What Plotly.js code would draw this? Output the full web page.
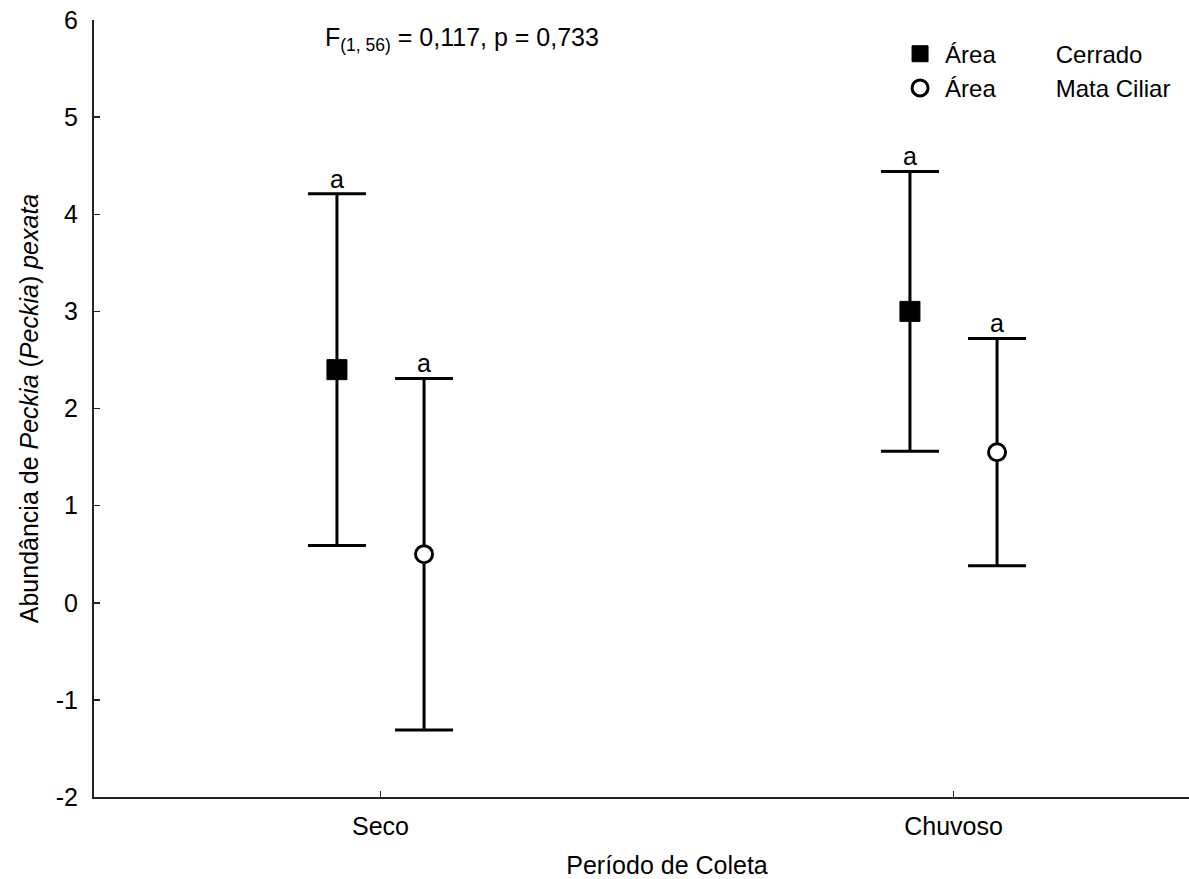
<!DOCTYPE html>
<html>
<head>
<meta charset="utf-8">
<script src="https://cdn.plot.ly/plotly-3.0.1.min.js"></script>
<style>
  html, body { margin: 0; padding: 0; background: #fff; overflow: hidden; }
  #chart { width: 1240px; height: 879px; }
</style>
</head>
<body>
<div id="chart"></div>
<script>
// ---- data ----
const periods = ["Seco", "Chuvoso"];
const cerradoMean = [2.40, 3.00];
const cerradoErr = [1.81, 1.44];
const mataMean = [0.50, 1.55];
const mataErr = [1.81, 1.17];
const groupLetters = ["a", "a"];
const seriesNames = ["Cerrado", "Mata Ciliar"];
const yTicks = [-2, -1, 0, 1, 2, 3, 4, 5, 6];
const yTickLabels = ["-2", "-1", "0", "1", "2", "3", "4", "5", "6"];

const FONT = "Liberation Sans, Arial, sans-serif";
const FS = 25;
const idx = periods.map((_, i) => i);
const off = 0.076;
const xC = idx.map(i => i - off);
const xM = idx.map(i => i + off);
const upC = cerradoMean.map((m, i) => m + cerradoErr[i]);
const upM = mataMean.map((m, i) => m + mataErr[i]);

const errStyle = { type: "data", visible: true, thickness: 3, width: 29, color: "#000" };

const traces = [
  {
    x: xC, y: cerradoMean, type: "scatter", mode: "markers",
    name: "Área         " + seriesNames[0],
    error_y: Object.assign({ array: cerradoErr }, errStyle),
    marker: { symbol: "square", size: 20, color: "#000", line: { color: "#000", width: 1 } }
  },
  {
    x: xM, y: mataMean, type: "scatter", mode: "markers",
    name: "Área         " + seriesNames[1],
    error_y: Object.assign({ array: mataErr }, errStyle),
    marker: { symbol: "circle", size: 17, color: "#fff", line: { color: "#000", width: 3 } }
  },
  {
    x: xC, y: upC, type: "scatter", mode: "text", text: groupLetters,
    textposition: "top center", textfont: { family: FONT, size: FS, color: "#000" },
    showlegend: false, hoverinfo: "skip"
  },
  {
    x: xM, y: upM, type: "scatter", mode: "text", text: groupLetters,
    textposition: "top center", textfont: { family: FONT, size: FS, color: "#000" },
    showlegend: false, hoverinfo: "skip"
  }
];

const layout = {
  width: 1240, height: 879,
  margin: { l: 94, r: 0, t: 20, b: 82 },
  paper_bgcolor: "#fff", plot_bgcolor: "#fff",
  font: { family: FONT, size: FS, color: "#000" },
  showlegend: true,
  legend: {
    x: 0.699, y: 0.985, xanchor: "left", yanchor: "top",
    bgcolor: "rgba(0,0,0,0)", borderwidth: 0,
    font: { family: FONT, size: 24, color: "#000" },
    itemwidth: 40,
    tracegroupgap: 0
  },
  xaxis: {
    range: [-0.5, 1.5],
    tickvals: idx, ticktext: periods,
    ticks: "inside", ticklen: 6, tickwidth: 1.5, tickcolor: "#222",
    showline: true, linecolor: "#222", linewidth: 2,
    showgrid: false, zeroline: false,
    tickfont: { family: FONT, size: FS, color: "#000" },
    ticklabelstandoff: 6,
    title: { text: "Período de Coleta", font: { family: FONT, size: FS, color: "#000" }, standoff: 18 }
  },
  yaxis: {
    range: [-2, 6],
    tickvals: yTicks, ticktext: yTickLabels,
    ticks: "inside", ticklen: 6, tickwidth: 1.5, tickcolor: "#222",
    showline: true, linecolor: "#222", linewidth: 2,
    showgrid: false, zeroline: false,
    tickfont: { family: FONT, size: FS, color: "#000" },
    ticklabelstandoff: 9,
    title: { text: "Abundância de <i>Peckia</i> (<i>Peckia</i>) <i>pexata</i>", font: { family: FONT, size: FS, color: "#000" }, standoff: 10 }
  },
  annotations: [
    {
      xref: "paper", yref: "paper", x: 0.1998, y: 0.975, xanchor: "left", yanchor: "middle",
      showarrow: false, text: "F<sub>(1, 56)</sub> = 0,117, p = 0,733",
      font: { family: FONT, size: FS, color: "#000" }
    }
  ]
};

Plotly.newPlot("chart", traces, layout, { displayModeBar: false, staticPlot: true });
</script>
</body>
</html>
